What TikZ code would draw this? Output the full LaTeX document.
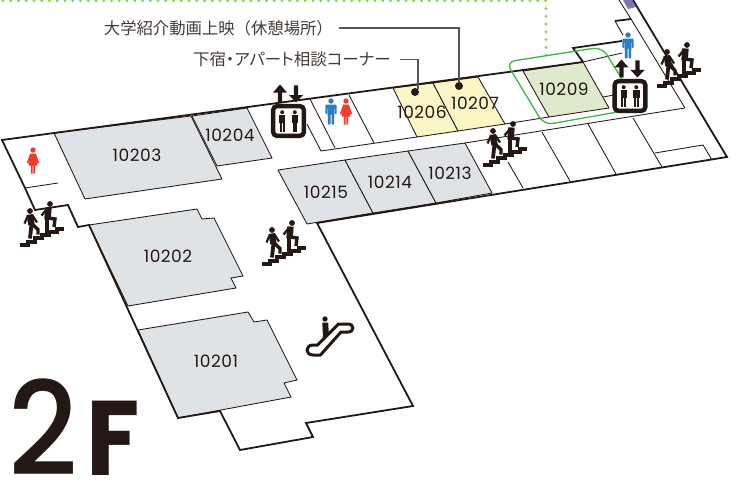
\documentclass[tikz,border=0pt]{standalone}
\usepackage{fontspec}
\newfontfamily\numfont[LetterSpace=3]{Poppins}
\newfontfamily\twofont{Poppins Medium}
\newfontfamily\effont{Poppins Bold}
\newfontfamily\jpfont{Noto Sans CJK JP}
\newfontfamily\jppalt[RawFeature=+palt]{Noto Sans CJK JP}
\definecolor{ink}{HTML}{231815}
\definecolor{roomgray}{HTML}{E0E3E6}
\definecolor{roomyellow}{HTML}{FBF6C6}
\definecolor{roomgreen}{HTML}{DFE9CB}
\definecolor{wcred}{HTML}{EE3B2E}
\definecolor{wcblue}{HTML}{2A7FC1}
\definecolor{dotgreen}{HTML}{8CD65A}
\definecolor{linegreen}{HTML}{3DB54A}
\definecolor{shaftpurple}{HTML}{7B78B8}
\definecolor{leadergray}{HTML}{555555}
\tikzset{
  wall/.style={draw=ink,line width=1.8pt,line join=miter},
  thinline/.style={draw=ink,line width=0.85pt},
  grayroom/.style={fill=roomgray,thinline},
  yellowroom/.style={fill=roomyellow,thinline},
  greenroom/.style={fill=roomgreen,thinline},
  roomno/.style={text=ink,font=\numfont\fontsize{17}{18}\selectfont,inner sep=0pt},
  jplabel/.style={text=ink!85,inner sep=0pt},
  leader/.style={draw=leadergray,line width=1.1pt},
  pics/manicon/.style={code={
    \fill[#1] (0,0) circle[radius=2.7];
    \fill[#1,rounded corners=0.8pt] (-5.6,13) -- (-5.6,3.6) -- (5.6,3.6) -- (5.6,13) -- (3.9,13) -- (3.9,7) -- (3.4,7) -- (3.1,23.5) -- (0.5,23.5) -- (0.5,13) -- (-0.5,13) -- (-0.5,23.5) -- (-3.1,23.5) -- (-3.4,7) -- (-3.9,7) -- (-3.9,13) -- cycle;
  }},
  pics/womanicon/.style={code={
    \fill[#1] (0,0) circle[radius=2.7];
    \fill[#1] (-2.8,3.5) -- (2.8,3.5) -- (6.2,13) -- (4.6,13.6) -- (3,8.5) -- (4.4,15.5) -- (2.2,15.5) -- (2.2,23.5) -- (0.4,23.5) -- (0.4,15.5) -- (-0.4,15.5) -- (-0.4,23.5) -- (-2.2,23.5) -- (-2.2,15.5) -- (-4.4,15.5) -- (-3,8.5) -- (-4.6,13.6) -- (-6.2,13) -- cycle;
  }},
  pics/stairicon/.style={code={
    \draw[ink,line width=4pt,line join=miter] (0,-2) -- (7.5,-2) -- (7.5,-5.3) -- (15,-5.3) -- (15,-8.7) -- (22,-8.7) -- (22,-12) -- (29,-12) -- (29,-15.4) -- (36.5,-15.4) -- (36.5,-18.4) -- (44,-18.4);
    \fill[ink] (10,-36) circle[radius=2.9];
    \draw[ink,line width=6.4pt] (9.8,-32.5) -- (11.5,-22);
    \draw[ink,line width=3.8pt] (11.5,-23) -- (10,-8.5);
    \draw[ink,line width=3.4pt] (12,-23) -- (18,-17.5) -- (18,-12.5);
    \draw[ink,line width=2.2pt] (8,-31.5) -- (4.5,-23.5);
    \draw[ink,line width=2.2pt] (12.5,-31.5) -- (17,-24.5);
    \fill[ink] (30,-43) circle[radius=2.9];
    \draw[ink,line width=6.4pt] (28.5,-39.5) -- (27.5,-27.5);
    \draw[ink,line width=3.8pt] (26.8,-29) -- (26.8,-13);
    \draw[ink,line width=3.4pt] (28,-29) -- (35,-28) -- (34,-20);
    \draw[ink,line width=2.3pt] (27,-38) -- (21.5,-31.5);
  }},
  pics/lifticon/.style={code={
    \draw[ink,line width=4.4pt,fill=white,rounded corners=4pt] (-15.4,-14.9) rectangle (15.4,14.9);
    \foreach \s in {-6.3,6.3}{
      \fill[ink] (\s,-8.8) circle[radius=2];
      \fill[ink] (\s-3.2,-6) rectangle (\s+3.2,2);
      \fill[ink] (\s-2.3,2) rectangle (\s-0.3,10.5);
      \fill[ink] (\s+0.3,2) rectangle (\s+2.3,10.5);
    }
    \fill[ink] (-8.5,-36.5) -- (-1.5,-28.5) -- (-6.3,-28.5) -- (-6.3,-18.5) -- (-10.7,-18.5) -- (-10.7,-28.5) -- (-15.5,-28.5) -- cycle;
    \fill[ink] (7.5,-18.5) -- (0.5,-26) -- (5.3,-26) -- (5.3,-35.5) -- (9.7,-35.5) -- (9.7,-26) -- (14.5,-26) -- cycle;
  }},
}
\begin{document}
\begin{tikzpicture}[x=1pt,y=-1pt]
\useasboundingbox (0,0) rectangle (731,495);

% green dotted route
\foreach \i in {0,...,70}{ \fill[dotgreen] (\i*7.75+3,0.8) circle[radius=1.6]; }
\foreach \i in {1,...,7}{ \fill[dotgreen] (546,\i*7.75+0.8) circle[radius=1.7]; }

% coloured rooms
\path[grayroom] (54,133) -- (191,116) -- (222,179) -- (85,199) -- cycle;
\path[grayroom] (192,116) -- (247,108) -- (272,158) -- (217,166) -- cycle;
\path[grayroom] (89,225) -- (197,209) -- (202,219) -- (214,218) -- (243,276) -- (231,278) -- (236,288) -- (128,306) -- cycle;
\path[grayroom] (138,330) -- (248,312) -- (254,322) -- (267,320) -- (297,380) -- (284,383) -- (291,397) -- (178,418) -- cycle;
\path[grayroom] (278,170) -- (345,160) -- (373,213) -- (307,224) -- cycle;
\path[grayroom] (345,160) -- (408,151) -- (436,203) -- (373,213) -- cycle;
\path[grayroom] (408,151) -- (465,143) -- (492,193) -- (436,203) -- cycle;
\path[yellowroom] (393,88) -- (433,83) -- (458,131) -- (417,137) -- cycle;
\path[yellowroom] (433,83) -- (478,77) -- (505,124) -- (458,131) -- cycle;
\path[greenroom] (523,71) -- (583,62) -- (609,108) -- (549,117) -- cycle;
\fill[shaftpurple] (623,0) -- (632,0) -- (636,7) -- (628,9) -- cycle;

% thin partition lines
\draw[thinline] (25,188) -- (58,183);
\draw[thinline] (310,99) -- (335,148);
\draw[thinline] (349,95) -- (374,143);
\draw[thinline] (307,124) -- (321,151) -- (417,137);
\draw[thinline] (505,124) -- (549,117);
\draw[thinline] (465,143) -- (685,108);
\draw[thinline] (508,162) -- (523,188);
\draw[thinline] (542,132) -- (570,181);
\draw[thinline] (588,124) -- (616,174);
\draw[thinline] (633,118) -- (662,167);
\draw[thinline] (655,153) -- (703,145) -- (712,160);
\draw[thinline] (583,62) -- (622,53);
\draw[thinline] (603,97) -- (614,95);
\draw[thinline] (619,0) -- (631,19) -- (685,108);
\draw[thinline] (615,21) -- (623,35);

% heavy walls
\draw[wall] (25,188) -- (2,140) -- (583,62);
\draw[wall] (25,188) -- (35,210) -- (68,205) -- (78,227) -- (89,225) -- (178,418) -- (220,411) -- (240,450) -- (313,437) -- (306,423) -- (413,406) -- (317,223) -- (727,157) -- (633,0);
\draw[wall] (583,62) -- (573,48) -- (622,41);
\draw[wall] (615,21) -- (631,19);

% green outline
\draw[linegreen,line width=1.3pt,rounded corners=9pt] (506,62) -- (602,47) -- (640,108) -- (544,125) -- cycle;

% leader lines
\node[jplabel,font=\jpfont\fontsize{16.35}{18}\selectfont,anchor=east] (movie) at (333,28.5) {大学紹介動画上映（休憩場所）};
\node[jplabel,font=\jppalt\fontsize{16.5}{18}\selectfont,anchor=east] (lodge) at (391,59.5) {下宿・アパート相談コーナー};
\node[circle,fill=ink,inner sep=0pt,minimum size=8pt] (dotA) at (459,86) {};
\node[circle,fill=ink,inner sep=0pt,minimum size=8pt] (dotB) at (415,92) {};
\coordinate (movieStart) at (339,28);
\coordinate (lodgeStart) at (400,59.5);
\draw[leader] (movieStart) -| (dotA);
\draw[leader] (lodgeStart) -| (dotB.north east);

% room numbers
\node[roomno] (r10203) at (137,155) {10203};
\node[roomno] (r10204) at (230,135) {10204};
\node[roomno] (r10202) at (168,256) {10202};
\node[roomno] (r10201) at (216,361) {10201};
\node[roomno] (r10206) at (422,112) {10206};
\node[roomno] (r10207) at (475,103) {10207};
\node[roomno] (r10215) at (326,192) {10215};
\node[roomno] (r10214) at (390,182) {10214};
\node[roomno] (r10213) at (450,173) {10213};
\node[roomno] (r10209) at (564,89) {10209};

% icons
\pic at (33,150) {womanicon=wcred};
\pic at (331,101) {manicon=wcblue};
\pic at (346,101) {womanicon=wcred};
\pic at (628,35) {manicon=wcblue};
\pic at (288.5,121) {lifticon};
\pic at (630,96) {lifticon};
\pic at (20,247) {stairicon};
\pic at (262,266) {stairicon};
\pic at (483,167) {stairicon};
\pic at (657,88) {stairicon};

% escalator
\draw[ink,line width=3pt,line join=round] (317.5,345) -- (338.5,324) -- (348,324) .. controls (354.5,324) and (354.5,332) .. (348,332) -- (341,332) -- (320.5,355) -- (313,355) .. controls (305,355) and (305,345) .. (313,345) -- cycle;
\fill[ink] (325,319) circle[radius=2.7];
\fill[ink] (322.3,322.5) -- (328.2,322.5) -- (328.7,332) -- (323,338) -- cycle;

% floor name
\node[text=ink,font=\twofont\fontsize{130}{130}\selectfont,inner sep=0pt,anchor=base west,xscale=0.93] (floorNum) at (8,475.5) {2};
\node[text=ink,font=\effont\fontsize{106}{106}\selectfont,inner sep=0pt,anchor=base west,xscale=0.92] (floorLet) at (86,475.5) {F};
\end{tikzpicture}
\end{document}
